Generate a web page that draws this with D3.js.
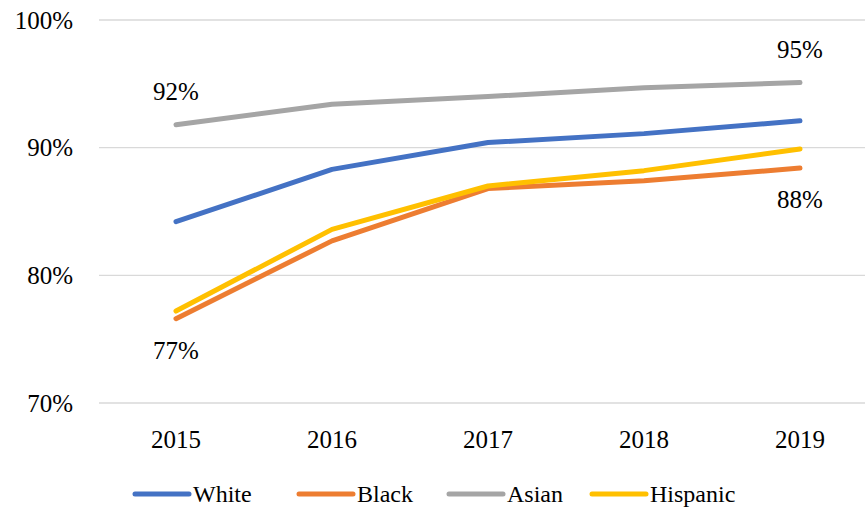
<!DOCTYPE html>
<html>
<head>
<meta charset="utf-8">
<script src="https://cdn.jsdelivr.net/npm/d3@7"></script>
<style>
    body { margin: 0; background: #fff; }
</style>
</head>
<body>
<svg id="chart"></svg>
<script>
var years = ["2015", "2016", "2017", "2018", "2019"];
var seriesNames = ["White", "Black", "Asian", "Hispanic"];
var white = [84.2, 88.3, 90.4, 91.1, 92.1];
var black = [76.6, 82.7, 86.8, 87.4, 88.4];
var asian = [91.8, 93.4, 94.0, 94.7, 95.1];
var hispanic = [77.2, 83.6, 87.0, 88.2, 89.9];
var yTicks = [70, 80, 90, 100];
// which points carry a data label, and where
var dataLabels = [
    { series: "Asian", index: 0, text: "92%", pos: "above" },
    { series: "Asian", index: 4, text: "95%", pos: "above" },
    { series: "Black", index: 0, text: "77%", pos: "below" },
    { series: "Black", index: 4, text: "88%", pos: "below" }
];

var colors = {
    White: "#4472C4",
    Black: "#ED7D31",
    Asian: "#A5A5A5",
    Hispanic: "#FFC000"
};
var values = { White: white, Black: black, Asian: asian, Hispanic: hispanic };
var serif = "'Liberation Serif', 'Times New Roman', 'DejaVu Serif', serif";

var width = 865, height = 514;
var svg = d3.select("#chart")
    .attr("width", width)
    .attr("height", height)
    .attr("font-family", serif);

var xScale = d3.scalePoint()
    .domain(years)
    .range([176, 800]);
var yScale = d3.scaleLinear()
    .domain([70, 100])
    .range([403, 20]);

// gridlines
svg.append("g")
    .selectAll("line")
    .data(yTicks)
    .enter()
    .append("line")
    .attr("x1", 99)
    .attr("x2", width)
    .attr("y1", d => yScale(d))
    .attr("y2", d => yScale(d))
    .attr("stroke", "#d9d9d9")
    .attr("stroke-width", 1.3);

// y tick labels
svg.append("g")
    .selectAll("text")
    .data(yTicks)
    .enter()
    .append("text")
    .attr("x", 73)
    .attr("y", d => yScale(d))
    .attr("dy", "0.35em")
    .attr("text-anchor", "end")
    .style("font-family", serif)
    .style("font-size", "25px")
    .text(d => d + "%");

// x labels
svg.append("g")
    .selectAll("text")
    .data(years)
    .enter()
    .append("text")
    .attr("x", d => xScale(d))
    .attr("y", 448)
    .attr("text-anchor", "middle")
    .style("font-family", serif)
    .style("font-size", "25px")
    .text(d => d);

var line = d3.line()
    .x((d, i) => xScale(years[i]))
    .y(d => yScale(d));

seriesNames.forEach(function(name) {
    svg.append("path")
        .datum(values[name])
        .attr("d", line)
        .attr("fill", "none")
        .attr("stroke", colors[name])
        .attr("stroke-width", 5)
        .attr("stroke-linecap", "round")
        .attr("stroke-linejoin", "round");
});

// data labels
svg.append("g")
    .selectAll("text")
    .data(dataLabels)
    .enter()
    .append("text")
    .attr("x", d => xScale(years[d.index]))
    .attr("y", d => yScale(values[d.series][d.index]) + (d.pos == "above" ? -25 : 40))
    .attr("text-anchor", "middle")
    .style("font-family", serif)
    .style("font-size", "25px")
    .text(d => d.text);

// legend
var legendX = [133, 297, 447, 590];
var legend = svg.append("g")
    .attr("transform", "translate(0,494)");
var legendItem = legend.selectAll("g")
    .data(seriesNames)
    .enter()
    .append("g")
    .attr("transform", (d, i) => "translate(" + legendX[i] + ",0)");
legendItem.append("line")
    .attr("x1", 2)
    .attr("x2", 56)
    .attr("stroke", d => colors[d])
    .attr("stroke-width", 5)
    .attr("stroke-linecap", "round");
legendItem.append("text")
    .attr("x", 60)
    .attr("dy", "0.35em")
    .style("font-family", serif)
    .style("font-size", "24px")
    .text(d => d);
</script>
</body>
</html>
